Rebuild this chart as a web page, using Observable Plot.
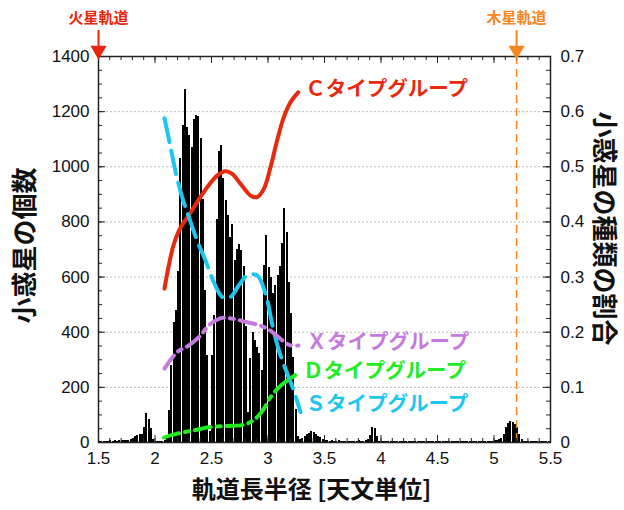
<!DOCTYPE html>
<html><head><meta charset="utf-8">
<script src="https://cdn.jsdelivr.net/npm/d3@7"></script>
<script src="https://cdn.jsdelivr.net/npm/@observablehq/plot@0.6"></script>
<style>body{margin:0;background:#fff} svg{display:block}</style>
</head><body><div id="chart"></div>
<script>
// ---- data ----
const binStart = 1.5;
const binWidth = 0.02;
const counts = [
  3,4,5,4,5,6,5,6,5,6,
  7,8,7,9,12,14,20,25,30,28,
  55,105,85,50,10,3,2,3,4,6,
  20,116,280,435,480,620,1030,1150,1280,1144,
  1113,1071,1170,1186,1182,1101,880,551,316,40,
  316,461,809,1057,1077,958,878,823,745,791,
  660,700,718,696,640,420,110,305,400,370,
  346,322,261,642,751,636,600,540,570,606,
  640,722,849,763,581,467,309,120,20,12,
  15,20,30,32,40,35,30,22,18,12,
  8,6,5,6,4,5,6,4,5,3,
  4,5,3,4,5,6,4,5,8,10,
  25,55,50,20,5,3,2,3,2,3,
  2,3,2,2,3,2,2,3,2,2,
  2,2,3,2,2,2,3,2,2,2,
  2,3,2,2,3,2,2,3,2,2,
  3,2,2,3,2,3,2,3,3,4,
  3,4,5,4,5,6,8,10,15,30,
  55,70,77,74,65,55,30,12,5,3,
  2,2,3,2,2,3,2,2,2,2
];
const countTicks = [0,200,400,600,800,1000,1200,1400];
const ratioTicks = [0,0.1,0.2,0.3,0.4,0.5,0.6,0.7];
const auTicks = [1.5,2,2.5,3,3.5,4,4.5,5,5.5];
const gridCounts = [200,400,600,800,1000,1200];

const cAU    = [2.084,2.122,2.167,2.226,2.30,2.373,2.462,2.55,2.624,2.683,2.757,2.845,2.904,2.963,3.022,3.081,3.14,3.199,3.267];
const cRatio = [0.279,0.321,0.360,0.390,0.412,0.436,0.463,0.484,0.492,0.487,0.469,0.448,0.445,0.460,0.499,0.548,0.590,0.617,0.635];
const sAU    = [2.084,2.137,2.18,2.24,2.30,2.373,2.447,2.52,2.595,2.668,2.742,2.816,2.904,2.978,3.037,3.096,3.17,3.228,3.288];
const sRatio = [0.588,0.536,0.493,0.445,0.409,0.366,0.330,0.291,0.264,0.264,0.285,0.303,0.303,0.270,0.215,0.167,0.125,0.094,0.055];
const xAU    = [2.084,2.196,2.30,2.388,2.491,2.595,2.70,2.816,2.934,3.022,3.11,3.199,3.27];
const xRatio = [0.134,0.164,0.176,0.191,0.215,0.226,0.224,0.218,0.212,0.203,0.188,0.176,0.176];
const dAU    = [2.078,2.196,2.343,2.491,2.639,2.757,2.845,2.904,2.963,3.022,3.096,3.17,3.24];
const dRatio = [0.009,0.016,0.022,0.028,0.030,0.031,0.037,0.046,0.061,0.082,0.100,0.112,0.122];

const groupNames = ["Ｃタイプグループ","Ｓタイプグループ","Ｘタイプグループ","Ｄタイプグループ"];
const orbitNames = ["火星軌道","木星軌道"];
const orbitAU = [1.5, 5.2];

// ---- derived tables ----
const W = 624, H = 510, ML = 98, MR = 74, MT = 56, MB = 68;
const FW = W - ML - MR, FH = H - MT - MB;
const k = 1400 / 0.7; // ratio -> count axis
const bins = counts.map((c, i) => ({x1: binStart + i * binWidth, x2: binStart + (i + 1) * binWidth, count: c}));
const mk = (au, r) => au.map((a, i) => ({au: a, v: r[i] * k}));
const series = [
  {name: groupNames[0], pts: mk(cAU, cRatio), color: "#e6290f", dash: null, dx: 7, dy: -3},
  {name: groupNames[1], pts: mk(sAU, sRatio), color: "#1cc6ef", dash: "24,9", dx: 5, dy: -8},
  {name: groupNames[2], pts: mk(xAU, xRatio), color: "#c57ae0", dash: "16,6,4,6", dx: 8, dy: -3},
  {name: groupNames[3], pts: mk(dAU, dRatio), color: "#22ec22", dash: "16,6,4,6", dx: 8, dy: -4}
];
const orbits = [
  {name: orbitNames[0], au: orbitAU[0], color: "#e8260c"},
  {name: orbitNames[1], au: orbitAU[1], color: "#f5871f"}
];
const minorCount = d3.range(0, 1401, 50);
const minorAU = d3.range(15, 56, 1).map(d => d / 10);

const sans = "'Liberation Sans', Arial, Helvetica, sans-serif";
const cjk = "'Noto Sans CJK JP', sans-serif";

const marks = [
  Plot.ruleY(gridCounts, {y: d => d, stroke: "#aaa", strokeWidth: 0.8, strokeDasharray: "2,2"}),
  Plot.rectY(bins, {x1: "x1", x2: "x2", y: "count", fill: "black", insetRight: 0.25, shapeRendering: "crispEdges"}),
  Plot.ruleX([orbitAU[1]], {x: d => d, stroke: "#f5871f", strokeWidth: 1.5, strokeDasharray: "8,5"}),
];
for (const s of series) {
  marks.push(Plot.line(s.pts, {x: "au", y: "v", stroke: s.color, strokeWidth: 4, curve: "catmull-rom",
    strokeDasharray: s.dash, strokeLinecap: "round"}));
  const last = s.pts[s.pts.length - 1];
  marks.push(Plot.text([last], {x: "au", y: "v", text: () => s.name, fill: s.color, dx: s.dx, dy: s.dy,
    textAnchor: "start", fontSize: 20.5, fontWeight: "bold", fontFamily: cjk}));
}
marks.push(
  // frame and ticks
  Plot.frame({stroke: "#222", strokeWidth: 1.5}),
  Plot.tickY(minorCount, {y: d => d, stroke: "#222", insetRight: FW - 4}),
  Plot.tickY(countTicks, {y: d => d, stroke: "#222", insetRight: FW - 7}),
  Plot.tickY(minorCount, {y: d => d, stroke: "#222", insetLeft: FW - 4}),
  Plot.tickY(countTicks, {y: d => d, stroke: "#222", insetLeft: FW - 7}),
  Plot.tickX(minorAU, {x: d => d, stroke: "#222", insetTop: FH - 4}),
  Plot.tickX(auTicks, {x: d => d, stroke: "#222", insetTop: FH - 7}),
  Plot.tickX(minorAU, {x: d => d, stroke: "#222", insetBottom: FH - 4}),
  Plot.tickX(auTicks, {x: d => d, stroke: "#222", insetBottom: FH - 7}),
  // tick labels
  Plot.text(countTicks, {y: d => d, text: d => String(d), frameAnchor: "left", dx: -9, textAnchor: "end", fontSize: 17, fontFamily: sans, fill: "#111"}),
  Plot.text(ratioTicks, {y: d => d * k, text: d => String(d), frameAnchor: "right", dx: 10, textAnchor: "start", fontSize: 17, fontFamily: sans, fill: "#111"}),
  Plot.text(auTicks, {x: d => d, text: d => String(d), frameAnchor: "bottom", dy: 21, fontSize: 17, fontFamily: sans, fill: "#111"}),
  // axis titles
  Plot.text(["小惑星の個数"], {text: d => d, frameAnchor: "left", textAnchor: "middle", dx: -73, dy: -4, rotate: -90, fontSize: 26, fontWeight: "bold", fontFamily: cjk, fill: "#111"}),
  Plot.text(["小惑星の種類の割合"], {text: d => d, frameAnchor: "right", textAnchor: "middle", dx: 53, dy: -21, rotate: 90, fontSize: 26, fontWeight: "bold", fontFamily: cjk, fill: "#111"}),
  Plot.text(["軌道長半径 [天文単位]"], {text: d => d, frameAnchor: "bottom", dx: -13, dy: 55, fontSize: 24, fontWeight: "bold", fontFamily: cjk, fill: "#111"}),
  // orbit markers
  Plot.ruleX(orbits, {x: "au", stroke: "color", strokeWidth: 2, insetTop: -26, insetBottom: FH + 6}),
  Plot.dot(orbits, {x: "au", y: () => 1400, symbol: "triangle", r: 6, rotate: 180, fill: "color", stroke: "none", dy: -6}),
  Plot.text(orbits, {x: "au", y: () => 1400, text: "name", fill: "color", dy: -38, fontSize: 15, fontWeight: "bold", fontFamily: cjk})
);

const chart = Plot.plot({
  width: W, height: H,
  marginLeft: ML, marginRight: MR, marginTop: MT, marginBottom: MB,
  x: {domain: [1.5, 5.5], axis: null},
  y: {domain: [0, 1400], axis: null},
  color: {type: "identity"},
  style: {background: "white", overflow: "visible"},
  marks
});
document.getElementById("chart").append(chart);
</script>
</body></html>
